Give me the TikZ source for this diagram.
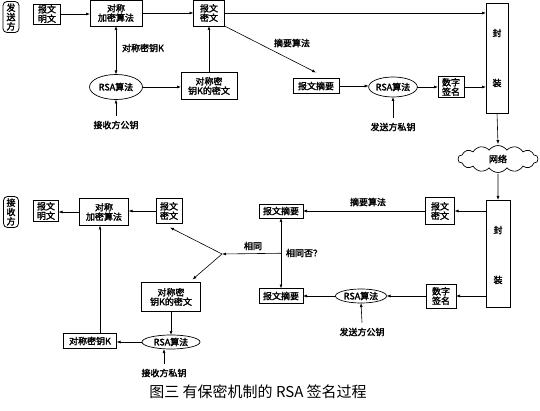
\documentclass[tikz,border=0pt]{standalone}
\usepackage{fontspec}
\newfontfamily\cjk{Noto Sans CJK SC}
\newfontfamily\cjkb[FakeBold=2.2]{Noto Sans CJK SC}
\usetikzlibrary{shapes.geometric,shapes.symbols,arrows.meta}
\begin{document}
\begin{tikzpicture}[x=1pt,y=-1pt,
  txt/.style={font=\cjkb\fontsize{9}{9.4}\selectfont},
  box/.style={draw, line width=0.8pt, rectangle, inner sep=0pt, outer sep=0pt, align=center, txt},
  side/.style={box, rounded corners=4pt},
  ell/.style={draw, ellipse, line width=0.7pt, inner sep=0pt, outer sep=0pt, txt},
  lbl/.style={inner sep=0pt, txt},
  arr/.style={-{Latex[length=4pt,width=3pt]}, line width=0.6pt},
  darr/.style={{Latex[length=4pt,width=3pt]}-{Latex[length=4pt,width=3pt]}, line width=0.6pt}]
\useasboundingbox (0,0) rectangle (540,411);

% ---------- sender ----------
\node[side, minimum width=16, minimum height=31] (sside) at (11,17) {发\\送\\方};
\node[box, minimum width=27, minimum height=20] (pm1) at (47,14) {报文\\明文};
\node[box, minimum width=52, minimum height=26] (enc1) at (116,13) {对称\\加密算法};
\node[box, minimum width=31, minimum height=26] (mc1) at (209,13) {报文\\密文};
\node[box, minimum width=22, minimum height=110] (fz1) at (497,58) {};
\node[lbl] (fz1a) at (497,33) {封};
\node[lbl] (fz1b) at (497,83) {装};
\node[ell, minimum width=53, minimum height=25] (rsa1) at (116,87) {RSA算法};
\node[box, minimum width=56, minimum height=27] (ck1) at (209,86) {对称密\\钥K的密文};
\node[lbl] (pub1) at (116,125) {接收方公钥};
\node[box, minimum width=46, minimum height=15] (dg1) at (316,86) {报文摘要};
\node[ell, minimum width=47, minimum height=20] (rsa2) at (393,87) {RSA算法};
\node[box, minimum width=26, minimum height=21] (sig1) at (451,87) {数字\\签名};
\node[lbl] (priv1) at (393,127) {发送方私钥};
\node[lbl] (lk1) at (143,48) {对称密钥K};
\node[lbl] (lz1) at (292,43) {摘要算法};

\draw[arr] (pm1.east) -- (pm1.east -| enc1.west);
\draw[arr] (enc1.east) -- (mc1.west);
\draw[arr] (mc1.east) -- (mc1.east -| fz1.west);
\draw[darr] (enc1.south) -- (rsa1.north);
\draw[arr] (rsa1.east) -- (rsa1.east -| ck1.west);
\draw[arr] (ck1.north) -- (mc1.south);
\draw[arr] ([yshift=5pt]pub1.north) -- (rsa1.south);
\draw[arr] (mc1.south east) -- ([yshift=6pt]dg1.north);
\draw[arr] (dg1.east) -- (dg1.east -| rsa2.west);
\draw[arr] (rsa2.east) -- (rsa2.east -| sig1.west);
\draw[arr] (sig1.east) -- (sig1.east -| fz1.west);
\draw[arr] ([yshift=5pt]priv1.north) -- (rsa2.south);

% ---------- network ----------
\node[draw, cloud, cloud puffs=14, cloud puff arc=110, aspect=3.2, line width=0.7pt,
      minimum width=80, minimum height=27, inner sep=0pt, txt] (net) at (498,159) {网络};
\node[box, minimum width=24, minimum height=107] (fz2) at (498,253.5) {};
\node[lbl] (fz2a) at (498,230) {封};
\node[lbl] (fz2b) at (498,280) {装};
\draw[arr] (fz1.south) -- ([yshift=1pt]net.north);
\draw[arr] ([yshift=-1pt]net.south) -- (fz2.north);

% ---------- receiver ----------
\node[box, minimum width=29, minimum height=27] (mc2) at (440,211) {报文\\密文};
\node[box, minimum width=44, minimum height=14] (dg2) at (281,211) {报文摘要};
\node[box, minimum width=44, minimum height=15] (dg3) at (281,296) {报文摘要};
\node[box, minimum width=30, minimum height=24] (sig2) at (441,296) {数字\\签名};
\node[ell, minimum width=51, minimum height=14] (rsa3) at (361,296) {RSA算法};
\node[lbl] (pub2) at (362,332) {发送方公钥};
\node[lbl] (lz2) at (368,202) {摘要算法};
\node[lbl] (lsame) at (304,253) {相同否？};
\node[lbl] (lyes) at (253,246) {相同};

\node[side, minimum width=15, minimum height=31] (rside) at (11,212) {接\\收\\方};
\node[box, minimum width=25, minimum height=21] (pm2) at (46,211) {报文\\明文};
\node[box, minimum width=49, minimum height=27] (enc2) at (104,212) {对称\\加密算法};
\node[box, minimum width=26, minimum height=25] (mc3) at (169,211) {报文\\密文};
\node[box, minimum width=59, minimum height=29] (kb2) at (171,297) {对称密\\钥K的密文};
\node[ell, minimum width=58, minimum height=14] (rsa4) at (171,342) {RSA算法};
\node[box, minimum width=53, minimum height=15] (k2) at (90,341) {对称密钥K};
\node[lbl] (priv2) at (164,373) {接收方私钥};

\draw[arr] (mc2.east -| fz2.west) -- (mc2.east);
\draw[arr] (mc2.west) -- (mc2.west -| dg2.east);
\draw[arr] (sig2.east -| fz2.west) -- (sig2.east);
\draw[arr] (sig2.west) -- (sig2.west -| rsa3.east);
\draw[arr] (rsa3.west) -- (rsa3.west -| dg3.east);
\draw[arr] ([yshift=5pt]pub2.north) -- (rsa3.south);
\draw[darr] (dg2.south) -- (dg3.north) coordinate[pos=0.5] (M);
\coordinate (J) at (222,254);
\draw[arr] (M) -- (J);
\draw[arr] (J) -- ([xshift=1pt,yshift=-4pt]mc3.south);
\draw[arr] (J) -- ([xshift=-8pt,yshift=3pt]kb2.north east);
\draw[arr] (mc3.west) -- (mc3.west -| enc2.east);
\draw[arr] (enc2.west) -- (enc2.west -| pm2.east);
\draw[arr] (kb2.south) -- (rsa4.north);
\draw[arr] (rsa4.west) -- (rsa4.west -| k2.east);
\draw[arr] ([xshift=10pt]k2.north) -- ([xshift=10pt]k2.north |- enc2.south);
\draw[arr] ([yshift=5pt]priv2.north) -- (rsa4.south -| priv2.north);

% ---------- caption ----------
\node[inner sep=0pt, font=\cjk\fontsize{15}{17}\selectfont] (cap) at (258,392) {图三\ 有保密机制的 RSA 签名过程};
\end{tikzpicture}
\end{document}
